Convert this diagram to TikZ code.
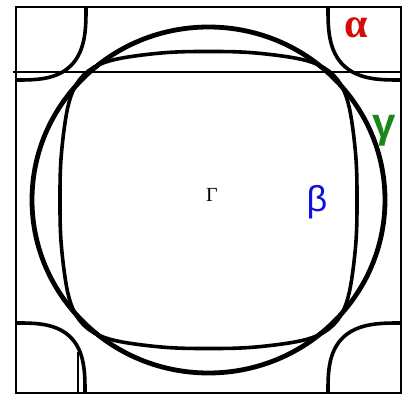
\documentclass[tikz,border=0pt]{standalone}
\usepackage{fontspec}
\setmainfont{Liberation Serif}
\newfontfamily\greeksans{Liberation Sans}
\definecolor{alphared}{RGB}{215,10,10}
\definecolor{betablue}{RGB}{15,15,225}
\definecolor{gammagreen}{RGB}{25,135,25}

\begin{document}
\begin{tikzpicture}[
  x=0.5pt, y=-0.5pt,
  declare function={sq(\ang,\ex)=pow(pow(abs(cos(\ang)),\ex)+pow(abs(sin(\ang)),\ex),-1/\ex);
                    tip(\ang)=1+0.06*pow(abs(sin(2*\ang)),8);},
  frame/.style={draw, line width=0.9pt},
  thinline/.style={draw, line width=0.6pt},
  sheet/.style={draw, line width=#1, line join=round},
  lbl/.style={inner sep=0pt}
]
  \useasboundingbox (0,0) rectangle (403,396);
  \draw[frame] (16,7) rectangle (401,393);
  \draw[thinline] (13,72) -- (401,72);
  \draw[thinline] (78,352) -- (78,393);

  % alpha pockets round the zone corners
  \begin{scope}
    \clip (16,7) rectangle (401,393);
    \foreach \cx/\cy/\ra/\rb in {16/7/70/73, 401/7/73/73, 16/393/69/70, 401/393/73/70}
      \draw[sheet=1.8pt] plot[domain=1:361, samples=121]
        ({\cx+\ra*cos(\x)*sq(\x,3)}, {\cy+\rb*sin(\x)*sq(\x,3)});
  \end{scope}

  % beta and gamma sheets
  \draw[sheet=1.8pt] plot[domain=1:361, samples=181]
    ({208.5+148.5*cos(\x)*sq(\x,3)*tip(\x)}, {200+148.5*sin(\x)*sq(\x,3)*tip(\x)}) -- cycle;
  \draw[sheet=2.4pt] (208.5,200) ellipse [x radius=176.5, y radius=173];

  \node[lbl, text=alphared, font=\fontsize{21}{21}\selectfont\bfseries] (alpha) at (356,28) {α};
  \node[lbl, text=gammagreen, font=\greeksans\fontsize{21}{21}\selectfont\bfseries] (gamma) at (384,131) {γ};
  \node[lbl, text=betablue, font=\greeksans\fontsize{18}{18}\selectfont] (beta) at (317,202) {β};
  \node[lbl, font=\fontsize{10}{10}\selectfont] (Gamma) at (212,195) {Γ};
\end{tikzpicture}
\end{document}
